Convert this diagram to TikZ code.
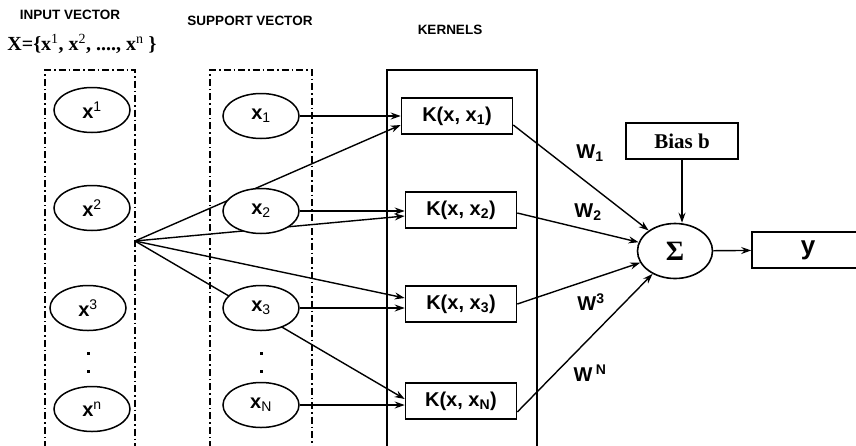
\documentclass[tikz,border=0pt]{standalone}
\usepackage{fontspec}
\setmainfont{Liberation Serif}
\setsansfont{Liberation Sans}
\usetikzlibrary{arrows.meta,shapes.geometric}
\pgfdeclarelayer{bg}
\pgfsetlayers{bg,main}
\begin{document}
\begin{tikzpicture}[x=1pt,y=-1pt,
  ell/.style={ellipse,draw,line width=1.5pt,fill=white,minimum width=76pt,minimum height=45pt,inner sep=0pt,font=\sffamily\bfseries\fontsize{20}{20}\selectfont},
  kbox/.style={rectangle,draw,line width=1.6pt,minimum width=111pt,minimum height=36pt,inner sep=0pt,font=\sffamily\bfseries\fontsize{20}{20}\selectfont},
  conn/.style={line width=1.4pt,-{Stealth[length=10pt,width=7pt]}},
  dd/.style={line width=2pt,dash pattern=on 7pt off 3pt on 1.5pt off 3pt},
  hdr/.style={font=\sffamily\bfseries\fontsize{13.5}{13.5}\selectfont},
  wlab/.style={font=\sffamily\bfseries\fontsize{20}{20}\selectfont},
  dotmark/.style={fill,minimum size=3pt,inner sep=0pt},
  outbox/.style={draw,line width=1.6pt,minimum height=36pt,inner sep=0pt}
]
\useasboundingbox (0,0) rectangle (856,445);
% column frames
\draw[dd] (45,448) -- (45,70) -- (135,70) -- (135,448);
\draw[dd] (210,448) -- (210,70) -- (312,70) -- (312,448);
\draw[line width=1.8pt] (387,448) -- (387,70) -- (537,70) -- (537,448);
% headers
\node[hdr] (hin) at (70,15) {INPUT VECTOR};
\node[hdr] (hsv) at (250,21) {SUPPORT VECTOR};
\node[hdr] (hk) at (450,30) {KERNELS};
\node[font=\rmfamily\bfseries\fontsize{20}{20}\selectfont] (xset) at (82,44) {X=\{x\textsuperscript{\mdseries 1}, x\textsuperscript{\mdseries 2}, ...., x\textsuperscript{\mdseries n} \}};
% input vector
\node[ell] (i1) at (92,110) {x\textsuperscript{\mdseries 1}};
\node[ell] (i2) at (92,208) {x\textsuperscript{\mdseries 2}};
\node[ell] (i3) at (88,308) {x\textsuperscript{\mdseries 3}};
\node[ell] (in) at (92,409) {x\textsuperscript{\mdseries n}};
\node[dotmark] (di1) at (88,353) {};
\node[dotmark] (di2) at (88,371) {};
% support vectors
\node[ell] (s1) at (261,116) {x\textsubscript{\mdseries 1}};
\node[ell] (s2) at (261,211) {x\textsubscript{\mdseries 2}};
\node[ell] (s3) at (261,308) {x\textsubscript{\mdseries 3}};
\node[ell] (sN) at (261,405) {x\textsubscript{\mdseries N}};
\node[dotmark] (ds1) at (261,353) {};
\node[dotmark] (ds2) at (261,371) {};
\coordinate (fan) at (135,241);
% kernels
\node[kbox] (k1) at (457,116) {K(x, x\textsubscript{1})};
\node[kbox] (k2) at (461,210) {K(x, x\textsubscript{2})};
\node[kbox] (k3) at (461,304) {K(x, x\textsubscript{3})};
\node[kbox] (kN) at (461,401) {K(x, x\textsubscript{N})};
% sum, bias, output
\node[ellipse,draw,line width=1.6pt,minimum width=75pt,minimum height=55pt,inner sep=0pt,font=\rmfamily\bfseries\fontsize{28}{28}\selectfont] (sig) at (675,251) {Σ};
\node[outbox,minimum width=112pt,font=\rmfamily\bfseries\fontsize{21}{21}\selectfont] (bias) at (682,141) {Bias b};
\node[outbox,minimum width=112pt,font=\sffamily\bfseries\fontsize{26}{26}\selectfont] (yb) at (808,250) {y};
% fan lines (behind ellipses)
\begin{pgfonlayer}{bg}
\draw[conn] (fan) -- ([yshift=-9pt]k1.west);
\draw[conn] (fan) -- ([yshift=-6pt]k2.west);
\draw[conn] (fan) -- ([yshift=6pt]k3.west);
\draw[conn] (fan) -- ([yshift=2pt]kN.west);
\end{pgfonlayer}
% support -> kernels
\draw[conn] (s1) -- (k1);
\draw[conn] (s2.east) -- (s2.east -| k2.west);
\draw[conn] (s3.east) -- (s3.east -| k3.west);
\draw[conn] (sN.east) -- (sN.east -| kN.west);
% kernels -> sum
\draw[conn] ([yshift=-9pt]k1.east) -- (sig);
\draw[conn] ([yshift=-3pt]k2.east) -- (sig);
\draw[conn] (k3.east) -- (sig);
\draw[conn] ([yshift=-11pt]kN.east) -- (sig);
\draw[conn] (bias.south) -- (bias.south |- sig.north);
\draw[conn] (sig) -- (yb);
% weights
\node[wlab] (w1) at (590,153) {W\textsubscript{1}};
\node[wlab] (w2) at (588,212) {W\textsubscript{2}};
\node[wlab] (w3) at (591,302) {W\textsuperscript{3}};
\node[wlab] (wN) at (590,373) {W\,\textsuperscript{N}};
\end{tikzpicture}
\end{document}
